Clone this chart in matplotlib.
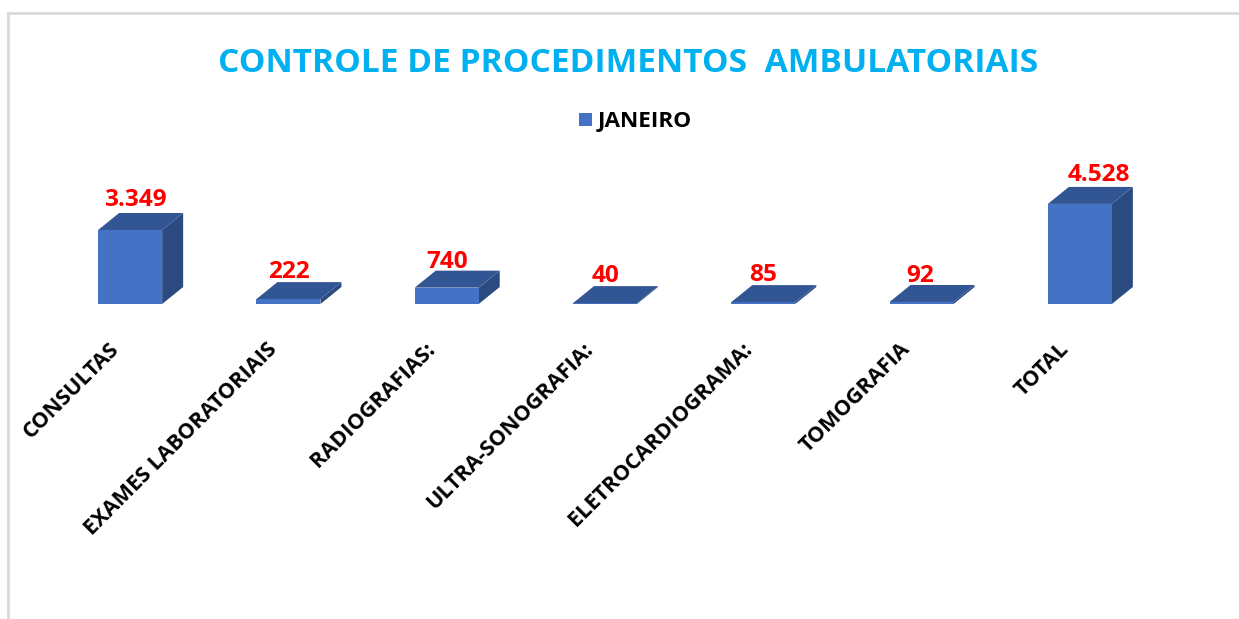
import matplotlib
matplotlib.use("Agg")
import matplotlib.pyplot as plt
from matplotlib.patches import Polygon, Rectangle
from matplotlib.lines import Line2D

plt.rcParams['font.family'] = ['Open Sans', 'DejaVu Sans']

categories = ["CONSULTAS", "EXAMES LABORATORIAIS", "RADIOGRAFIAS:", "ULTRA-SONOGRAFIA:",
              "ELETROCARDIOGRAMA:", "TOMOGRAFIA", "TOTAL"]
values = [3349, 222, 740, 40, 85, 92, 4528]
value_labels = ["3.349", "222", "740", "40", "85", "92", "4.528"]
series_name = "JANEIRO"
title = "CONTROLE DE PROCEDIMENTOS  AMBULATORIAIS"

# hand placement of the value labels, in pixels from the bar's front-top centre
label_dx = [5.5, 0.5, 1, 1, 0, -1, 19]
label_dy = [30, 27, 26, 27, 27, 26, 29]

W, H = 1239, 619
FRONT, TOP, SIDE = "#4472C4", "#325594", "#2B4A80"

fig = plt.figure(figsize=(W / 100, H / 100), dpi=100, facecolor="white")

# axes: one category = 158.3 px, baseline at y=304 px
left, right, base, top = 51, 1159, 304, 193.5
ax = fig.add_axes([left / W, 1 - base / H, (right - left) / W, (base - top) / H])
ax.set_xlim(-0.5, len(categories) - 0.5)
ax.set_ylim(0, 5000)
ax.axis("off")

px_x = (ax.get_xlim()[1] - ax.get_xlim()[0]) / (right - left)
px_y = (ax.get_ylim()[1] - ax.get_ylim()[0]) / (base - top)
dx, dy = 21 * px_x, 17 * px_y
bw = 64 * px_x

for i, v in enumerate(values):
    x0, x1 = i - bw / 2, i + bw / 2
    ax.bar(i, v, width=bw, color=FRONT, linewidth=0, clip_on=False, zorder=3)
    ax.add_patch(Polygon([(x0, v), (x1, v), (x1 + dx, v + dy), (x0 + dx, v + dy)],
                         closed=True, fc=TOP, ec="none", clip_on=False, zorder=3))
    ax.add_patch(Polygon([(x1, 0), (x1 + dx, dy), (x1 + dx, v + dy), (x1, v)],
                         closed=True, fc=SIDE, ec="none", clip_on=False, zorder=2))
    ax.annotate(value_labels[i], (i, v), xytext=(label_dx[i], label_dy[i]),
                textcoords="offset pixels", ha="center", va="center", color="#FF0000",
                fontsize=17.6, fontweight="bold", annotation_clip=False)
    ax.annotate(categories[i], (i, 0), xytext=(-22, -35), textcoords="offset pixels",
                ha="right", va="top", rotation=45, rotation_mode="anchor",
                color="black", fontsize=15.6, fontweight="bold", annotation_clip=False)

fig.text(628 / W, 1 - 63 / H, title, ha="center", va="center",
         color="#00B0F0", fontsize=24.1, fontweight="bold")

# legend
fig.add_artist(Rectangle((579 / W, 1 - 126 / H), 13 / W, 13 / H, transform=fig.transFigure,
                         fc=FRONT, ec="none"))
fig.text(598 / W, 1 - 122 / H, series_name, ha="left", va="center",
         color="black", fontsize=16.2, fontweight="bold")

# outer chart frame
frame = "#D9D9D9"
fig.add_artist(Line2D([7.5 / W, 7.5 / W], [0, 1 - 12.5 / H], color=frame, lw=2))
fig.add_artist(Line2D([7.5 / W, 1], [1 - 12.5 / H, 1 - 12.5 / H], color=frame, lw=2))

fig.savefig("out.png", dpi=100, facecolor="white")
